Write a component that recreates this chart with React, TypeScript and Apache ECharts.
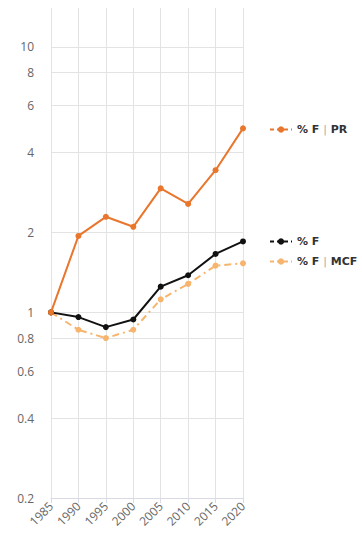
import React, { useEffect, useRef } from "react";
import * as echarts from "echarts";

const years = ["1985", "1990", "1995", "2000", "2005", "2010", "2015", "2020"];
const seriesPR = [1, 1.94, 2.29, 2.1, 2.93, 2.56, 3.43, 4.93];
const seriesF = [1, 0.96, 0.88, 0.94, 1.25, 1.38, 1.66, 1.85];
const seriesMCF = [1, 0.86, 0.8, 0.86, 1.12, 1.28, 1.5, 1.53];
const yTicks = [0.2, 0.4, 0.6, 0.8, 1, 2, 4, 6, 8, 10];

const namePR = "% F | PR";
const nameF = "% F";
const nameMCF = "% F | MCF";

export default function App() {
  const ref = useRef<HTMLDivElement>(null);
  useEffect(() => {
    if (!ref.current) return;
    const chart = echarts.init(ref.current, undefined, { renderer: "svg" });
    const font = "'Open Sans', sans-serif";
    const legendFont = "'DejaVu Sans', Verdana, sans-serif";
    const legendText = {
      color: "#333",
      fontWeight: "bold" as const,
      fontSize: 11,
      fontFamily: legendFont,
      rich: {
        p: { color: "#aaa", fontWeight: "normal" as const, fontSize: 11, fontFamily: legendFont },
      },
    };
    const legendFormatter = (name: string) => name.replace(" | ", " {p||} ");
    chart.setOption({
      animation: false,
      grid: { left: 51, right: 119, top: 8, bottom: 46, containLabel: false },
      legend: [
        {
          data: [namePR],
          left: 269,
          top: 124,
          padding: 0,
          itemWidth: 22,
          itemHeight: 8,
          textStyle: legendText,
          formatter: legendFormatter,
          lineStyle: { type: [4, 3] },
        },
        {
          data: [nameF, nameMCF],
          orient: "vertical",
          left: 269,
          top: 236,
          padding: 0,
          itemGap: 9,
          itemWidth: 22,
          itemHeight: 8,
          textStyle: legendText,
          formatter: legendFormatter,
          lineStyle: { type: [4, 3] },
        },
      ],
      xAxis: {
        type: "category",
        data: years,
        boundaryGap: false,
        axisLine: { show: true, lineStyle: { color: "#d8dbe6" } },
        axisTick: { show: true, alignWithLabel: true, length: 5, lineStyle: { color: "#d8dbe6" } },
        splitLine: { show: true, lineStyle: { color: "#e3e3e3" } },
        axisLabel: {
          rotate: 45,
          color: "#666",
          fontSize: 12,
          fontFamily: font,
          margin: 6,
          interval: 0,
        },
      },
      yAxis: {
        type: "log",
        logBase: 10,
        min: 0.2,
        max: 14,
        axisLine: { show: false },
        axisTick: { show: false, customValues: yTicks },
        splitLine: { show: true, lineStyle: { color: "#e3e3e3" } },
        axisLabel: {
          customValues: yTicks,
          color: "#666",
          fontSize: 12,
          fontFamily: font,
          margin: 17,
          formatter: (v: number) => String(v),
        },
      },
      series: [
        {
          name: namePR,
          type: "line",
          data: seriesPR,
          color: "#e8762c",
          symbol: "circle",
          symbolSize: 6,
          lineStyle: { width: 2 },
          z: 3,
        },
        {
          name: nameF,
          type: "line",
          data: seriesF,
          color: "#111111",
          symbol: "circle",
          symbolSize: 6,
          lineStyle: { width: 2 },
          z: 2,
        },
        {
          name: nameMCF,
          type: "line",
          data: seriesMCF,
          color: "#f6b46c",
          symbol: "circle",
          symbolSize: 6,
          lineStyle: { width: 2, type: [7, 4, 2, 4] },
          z: 1,
        },
      ],
    });
    return () => chart.dispose();
  }, []);
  return <div ref={ref} style={{ width: 362, height: 544, position: "absolute", left: 0, top: 0 }} />;
}
